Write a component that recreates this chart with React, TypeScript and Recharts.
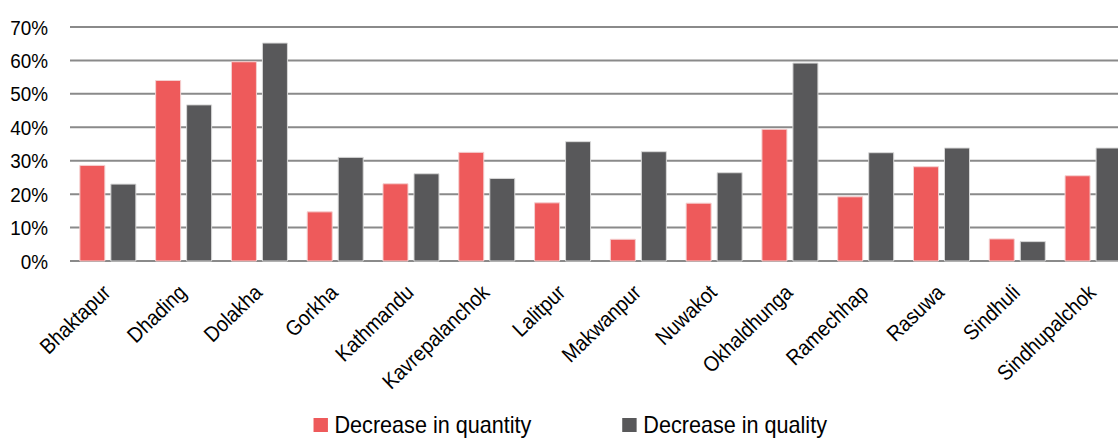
import { BarChart, Bar, XAxis, YAxis, CartesianGrid, Legend } from 'recharts';

const districts = [
    'Bhaktapur', 'Dhading', 'Dolakha', 'Gorkha', 'Kathmandu', 'Kavrepalanchok', 'Lalitpur',
    'Makwanpur', 'Nuwakot', 'Okhaldhunga', 'Ramechhap', 'Rasuwa', 'Sindhuli', 'Sindhupalchok',
];
const quantity = [28.6, 54.0, 59.6, 14.7, 23.1, 32.5, 17.4, 6.5, 17.3, 39.4, 19.2, 28.2, 6.6, 25.5];
const quality = [23.0, 46.7, 65.2, 31.0, 26.1, 24.7, 35.7, 32.7, 26.4, 59.2, 32.4, 33.8, 5.8, 33.8];
const yTicks = [0, 10, 20, 30, 40, 50, 60, 70];
const seriesOrder = ['Decrease in quantity', 'Decrease in quality'];

const RED = '#EE5A5B';
const DARK = '#58585A';
const FONT = "'Liberation Sans', Arial, sans-serif";
// the source font is a narrow Arial, so squeeze the glyphs a bit
const SQUEEZE = 0.9;

const data = districts.map((name, i) => ({ name, quantity: quantity[i], quality: quality[i] }));

function DistrictTick({ x, y, payload }: any) {
    return (
        <g transform={`translate(${x + 4},${y + 33}) rotate(-44) scale(${SQUEEZE},1)`}>
            <text textAnchor="end" fontSize={21.5} fill="#000" fontFamily={FONT}>
                {payload.value}
            </text>
        </g>
    );
}

function PercentTick({ x, y, payload }: any) {
    return (
        <g transform={`translate(${x},${y}) scale(${SQUEEZE},1)`}>
            <text textAnchor="end" dy="0.36em" fontSize={21} fill="#000" fontFamily={FONT}>
                {`${payload.value}%`}
            </text>
        </g>
    );
}

function LegendBox({ payload }: any) {
    const items = [...payload].sort((a: any, b: any) => seriesOrder.indexOf(a.value) - seriesOrder.indexOf(b.value));
    return (
        <div style={{ display: 'flex', justifyContent: 'center' }}>
            <div
                style={{
                    display: 'flex',
                    transform: `scaleX(${SQUEEZE})`,
                    transformOrigin: 'center',
                    fontFamily: FONT,
                    fontSize: 24,
                    lineHeight: '26px',
                }}
            >
                {items.map((p: any, i: number) => (
                    <div key={p.value} style={{ display: 'flex', alignItems: 'center', marginRight: i === 0 ? 101 : 0 }}>
                        <span style={{ width: 15.5, height: 14, background: p.color, display: 'inline-block', marginRight: 7.8 }} />
                        <span style={{ color: '#000', whiteSpace: 'nowrap' }}>{p.value}</span>
                    </div>
                ))}
            </div>
        </div>
    );
}

export default function App() {
    return (
        <div style={{ position: 'absolute', left: 0, top: 0, width: 1118, height: 438, overflow: 'hidden', background: '#fff' }}>
            <BarChart
                width={1140}
                height={438}
                data={data}
                margin={{ top: 27, right: 9, left: 10, bottom: 0 }}
                barCategoryGap="13%"
                barGap={6}
            >
                <CartesianGrid vertical={false} stroke="#8a8a8a" strokeWidth={2} />
                <XAxis
                    dataKey="name"
                    axisLine={false}
                    tickLine={false}
                    tickSize={0}
                    tickMargin={0}
                    height={151}
                    interval={0}
                    tick={<DistrictTick />}
                />
                <YAxis
                    domain={[0, 70]}
                    ticks={yTicks}
                    axisLine={false}
                    tickLine={false}
                    tickSize={0}
                    tickMargin={22}
                    width={60}
                    tick={<PercentTick />}
                />
                <Legend verticalAlign="bottom" content={<LegendBox />} />
                <Bar dataKey="quantity" name="Decrease in quantity" fill={RED} stroke="#f4d0d0" strokeWidth={1} isAnimationActive={false} />
                <Bar dataKey="quality" name="Decrease in quality" fill={DARK} stroke="#d8d8d8" strokeWidth={1} isAnimationActive={false} />
            </BarChart>
        </div>
    );
}
